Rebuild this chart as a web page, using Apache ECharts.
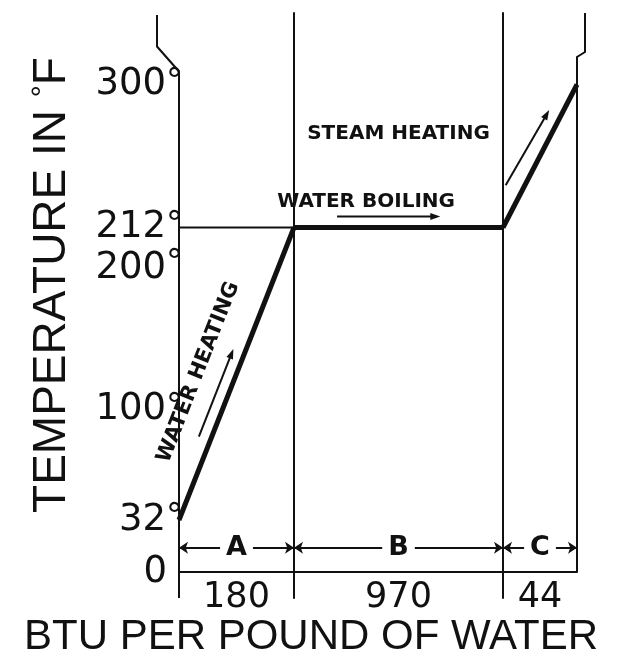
<!DOCTYPE html>
<html><head><meta charset="utf-8">
<script src="https://cdn.jsdelivr.net/npm/echarts@6/dist/echarts.min.js"></script>
<style>html,body{margin:0;padding:0;background:#fff}#c{width:622px;height:666px}</style>
</head><body><div id="c"></div>
<script>
// ---- data ----
const segments = ['A', 'B', 'C'];
const segmentBTU = [180, 970, 44];
const boundaryTemps = [32, 212, 212, 300];
const yTicks = [0, 32, 100, 212, 300];
const yTickShifted = [200];
const yTitle = 'TEMPERATURE IN °F';
const xTitle = 'BTU PER POUND OF WATER';
const segmentNotes = ['WATER HEATING', 'WATER BOILING', 'STEAM HEATING'];

// ---- layout ----
const INK = '#111';
const bounds = [0];
segmentBTU.forEach(v => bounds.push(bounds[bounds.length - 1] + v));
const gridLeft = [179, 294, 503], gridWidth = [115, 209, 74];
const TOP = 13, HEIGHT = 585, YMIN = -16, YMAX = 344;
const DIM_Y = 15;

const chart = echarts.init(document.getElementById('c'), null, {renderer: 'canvas'});

const grids = segments.map((s, i) => ({
  left: gridLeft[i], width: gridWidth[i], top: TOP, height: HEIGHT,
  show: false, containLabel: false, outerBoundsMode: 'none'
}));

const xAxes = segments.map((s, i) => ({
  type: 'value', gridIndex: i, min: bounds[i], max: bounds[i + 1],
  axisLine: {show: true, onZero: true, lineStyle: {color: INK, width: 2}},
  axisTick: {show: false}, axisLabel: {show: false}, splitLine: {show: false},
  name: String(segmentBTU[i]), nameLocation: 'middle', nameGap: 0,
  nameTextStyle: {fontFamily: 'DejaVu Sans', fontSize: 35, color: INK, verticalAlign: 'middle'}
}));

const fmt = v => v === 0 ? '{z|0}' : '{n|' + v + '}{d|°}';
const richBase = {
  n: {fontFamily: 'DejaVu Sans', fontSize: 37, color: INK},
  z: {fontFamily: 'DejaVu Sans', fontSize: 37, color: INK, padding: [0, 16, 0, 0]},
  d: {fontFamily: 'DejaVu Sans', fontSize: 34, color: INK, verticalAlign: 'top', lineHeight: 34}
};
const yBase = {
  type: 'value', gridIndex: 0, min: YMIN, max: YMAX, position: 'left', offset: 0,
  axisLine: {show: false}, axisTick: {show: false}, splitLine: {show: false}
};
const yAxes = [
  Object.assign({}, yBase, {axisLabel: {customValues: yTicks, formatter: fmt, rich: richBase, margin: -4}}),
  Object.assign({}, yBase, {axisLabel: {customValues: yTickShifted, formatter: fmt, margin: -4,
    verticalAlign: 'top', lineHeight: 42,
    rich: {n: Object.assign({}, richBase.n, {lineHeight: 42}), d: richBase.d}}}),
  Object.assign({}, yBase, {gridIndex: 1, axisLine: {show: true, onZero: false, lineStyle: {color: INK, width: 2}}, axisLabel: {show: false}}),
  Object.assign({}, yBase, {gridIndex: 2, axisLine: {show: true, onZero: false, lineStyle: {color: INK, width: 2}}, axisLabel: {show: false}})
];
const yIdx = [0, 2, 3];

const series = segments.map((s, i) => ({
  type: 'line', xAxisIndex: i, yAxisIndex: yIdx[i], silent: true, animation: false,
  symbol: 'none', lineStyle: {color: INK, width: 5},
  data: [[bounds[i], boundaryTemps[i]], [bounds[i + 1], boundaryTemps[i + 1]]],
  markLine: {
    silent: true, animation: false, symbol: ['arrow', 'arrow'], symbolSize: 9,
    lineStyle: {color: INK, width: 2, type: 'solid'},
    label: {show: true, position: 'insideMiddle', formatter: s, backgroundColor: '#fff',
      padding: [0, 6], fontFamily: 'DejaVu Sans', fontWeight: 'bold', fontSize: 27, color: INK},
    emphasis: {disabled: true},
    data: [[{coord: [bounds[i], DIM_Y]}, {coord: [bounds[i + 1], DIM_Y]}]]
  }
}));
// boiling temperature guide back to the axis
series.push({
  type: 'line', xAxisIndex: 0, yAxisIndex: 0, silent: true, animation: false, symbol: 'none',
  lineStyle: {color: INK, width: 2},
  data: [[bounds[0], boundaryTemps[1]], [bounds[1], boundaryTemps[1]]]
});

chart.setOption({
  animation: false,
  backgroundColor: '#fff',
  title: {text: xTitle, left: 'center', top: 611,
    textStyle: {fontFamily: 'Liberation Sans', fontSize: 42, fontWeight: 'normal', color: INK}},
  grid: grids, xAxis: xAxes, yAxis: yAxes, series: series
});

// ---- annotations positioned from the axes ----
const px = (g, v) => chart.convertToPixel({xAxisIndex: g, yAxisIndex: yIdx[g]}, v);
function along(p0, p1, t, off) {
  const dx = p1[0] - p0[0], dy = p1[1] - p0[1], L = Math.hypot(dx, dy);
  const nx = dy / L, ny = -dx / L;
  return [p0[0] + dx * t + nx * off, p0[1] + dy * t + ny * off];
}
function arrow(a, b) {
  const dx = b[0] - a[0], dy = b[1] - a[1], L = Math.hypot(dx, dy);
  const ux = dx / L, uy = dy / L, nx = -uy, ny = ux;
  const h = 10, w = 3.5;
  return [
    {type: 'line', shape: {x1: a[0], y1: a[1], x2: b[0] - ux * 4, y2: b[1] - uy * 4}, style: {stroke: INK, lineWidth: 2}},
    {type: 'polygon', shape: {points: [b, [b[0] - ux * h + nx * w, b[1] - uy * h + ny * w], [b[0] - ux * h - nx * w, b[1] - uy * h - ny * w]]}, style: {fill: INK}}
  ];
}
const noteFont = {fontFamily: 'DejaVu Sans', fontWeight: 'bold', fontSize: 20, fill: INK};
const g = [];
// water heating
const a0 = px(0, [bounds[0], boundaryTemps[0]]), a1 = px(0, [bounds[1], boundaryTemps[1]]);
const angA = Math.atan2(a0[1] - a1[1], a1[0] - a0[0]);
const tA = along(a0, a1, 0.46, 36);
g.push({type: 'text', x: tA[0], y: tA[1], rotation: angA,
  style: Object.assign({text: segmentNotes[0], align: 'center', verticalAlign: 'middle'}, noteFont, {fontSize: 21})});
g.push(...arrow(along(a0, a1, 0.27, 12), along(a0, a1, 0.57, 12)));
// water boiling
const b0 = px(1, [bounds[1], boundaryTemps[1]]), b1 = px(1, [bounds[2], boundaryTemps[2]]);
g.push({type: 'text', x: b0[0] + (b1[0] - b0[0]) * 0.345, y: b0[1] - 26,
  style: Object.assign({text: segmentNotes[1], align: 'center', verticalAlign: 'middle'}, noteFont)});
g.push(...arrow([b0[0] + (b1[0] - b0[0]) * 0.206, b0[1] - 11], [b0[0] + (b1[0] - b0[0]) * 0.70, b0[1] - 11]));
// steam heating
const c0 = px(2, [bounds[2], boundaryTemps[2]]), c1 = px(2, [bounds[3], boundaryTemps[3]]);
g.push({type: 'text', x: (b0[0] + b1[0]) / 2, y: 134,
  style: Object.assign({text: segmentNotes[2], align: 'center', verticalAlign: 'middle'}, noteFont)});
g.push(...arrow(along(c0, c1, 0.24, 17), along(c0, c1, 0.78, 13)));
// left axis with break mark
const l0 = px(0, [bounds[0], YMIN]), lt = px(0, [bounds[0], boundaryTemps[3]]);
g.push({type: 'polyline', shape: {points: [l0, [l0[0], lt[1] - 13], [l0[0] - 22, lt[1] - 38], [l0[0] - 22, TOP + 2]]},
  style: {stroke: INK, lineWidth: 2, fill: null}});
// right edge with break mark
const r0 = px(2, [bounds[3], 0]);
g.push({type: 'polyline', shape: {points: [r0, [r0[0], TOP + 44], [r0[0] + 8, TOP + 39], [r0[0] + 8, TOP]]},
  style: {stroke: INK, lineWidth: 2, fill: null}});
// y title
g.push({type: 'text', x: 52, y: 285, rotation: Math.PI / 2,
  style: {text: yTitle.replace('°', '{s|°}'), align: 'center', verticalAlign: 'middle',
    fontFamily: 'Liberation Sans', fontSize: 46, fill: INK,
    rich: {s: {fontFamily: 'Liberation Sans', fontSize: 30, verticalAlign: 'top', lineHeight: 30, fill: INK}}}});
chart.setOption({graphic: g});
</script></body></html>
